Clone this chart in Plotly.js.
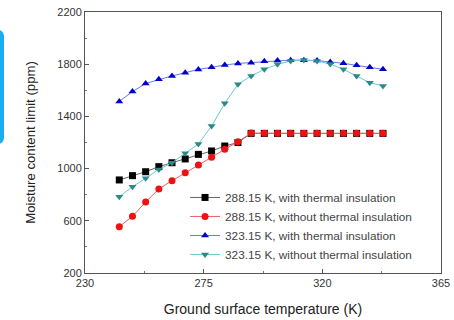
<!DOCTYPE html>
<html><head><meta charset="utf-8">
<script src="https://cdn.plot.ly/plotly-3.0.1.min.js"></script>
<style>html,body{margin:0;padding:0;background:#fff;}#c{width:454px;height:320px;position:relative;z-index:1;}
#tab{position:absolute;left:-8px;top:30px;width:12px;height:114px;background:#1aaef0;border-radius:6px;z-index:5;}</style>
</head><body><div id="tab"></div><div id="c"></div>
<script>
const temps = [243,248,253,258,263,268,273,278,283,288,293,298,303,308,313,318,323,328,333,338,343];
const s288With = [913,946,976,1015,1045,1074,1109,1135,1173,1200,1270,1270,1270,1270,1270,1270,1270,1270,1270,1270,1270];
const s288Without = [555,634,744,844,907,969,1028,1087,1148,1206,1272,1270,1270,1270,1270,1270,1270,1270,1270,1270,1270];
const s323With = [1515,1590,1652,1684,1710,1735,1760,1776,1794,1806,1812,1822,1828,1831,1831,1828,1817,1807,1791,1776,1761];
const s323Without = [785,861,926,994,1045,1117,1189,1326,1500,1646,1710,1761,1799,1825,1832,1825,1801,1761,1710,1658,1633];
const names = ["288.15 K, with thermal insulation","288.15 K, without thermal insulation","323.15 K, with thermal insulation","323.15 K, without thermal insulation"];
const xTicks = [230,275,320,365];
const yTicks = [200,600,1000,1400,1800,2200];

function tr(y,name,sym,mc,lc){
  return {x:temps,y:y,name:name,type:'scatter',mode:'lines+markers',
    marker:{symbol:sym,size:7,color:mc},line:{color:lc,width:1}};
}
const data=[
  tr(s288With,names[0],'square','#000000','#666666'),
  tr(s288Without,names[1],'circle','#ee1111','#f06060'),
  tr(s323With,names[2],'triangle-up','#0000cc','#6677ee'),
  tr(s323Without,names[3],'triangle-down','#2a8a88','#66cccc')
];
const F='Liberation Sans, Arial';
const axCommon={showline:true,linecolor:'#555',linewidth:1,mirror:true,ticks:'inside',ticklen:4,tickcolor:'#555',
  showgrid:false,zeroline:false,tickfont:{family:F,size:11,color:'#333'}};
const layout={
  width:454,height:320,margin:{l:85,r:13,t:12,b:47},
  paper_bgcolor:'#fff',plot_bgcolor:'#fff',showlegend:true,
  xaxis:Object.assign({},axCommon,{range:[230,365],tickvals:xTicks,ticktext:xTicks.map(String),
    minor:{dtick:22.5,tick0:230,ticks:'inside',ticklen:2,tickcolor:'#777'},
    title:{text:'Ground surface temperature (K)',font:{family:F,size:14,color:'#222'},standoff:15}}),
  yaxis:Object.assign({},axCommon,{range:[200,2200],tickvals:yTicks,ticktext:yTicks.map(String),
    minor:{dtick:200,tick0:200,ticks:'inside',ticklen:2,tickcolor:'#777'},
    title:{text:'Moisture content limit (ppm)',font:{family:F,size:13.2,color:'#222'},standoff:18}}),
  legend:{x:0.281,y:0.345,xanchor:'left',yanchor:'top',bgcolor:'rgba(0,0,0,0)',
    font:{family:F,size:11.8,color:'#444'},itemwidth:30,tracegroupgap:0}
};
Plotly.newPlot('c',data,layout,{displayModeBar:false,staticPlot:true});
</script></body></html>
